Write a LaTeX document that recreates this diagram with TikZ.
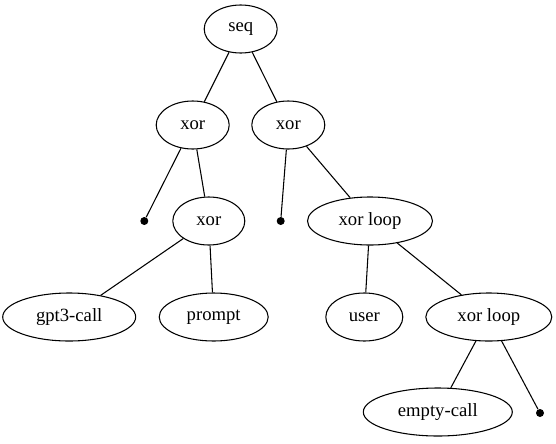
\documentclass[tikz,border=0pt]{standalone}
\usepackage{fontspec}
\setmainfont{Liberation Serif}
\usetikzlibrary{shapes.geometric}
\begin{document}
\begin{tikzpicture}[x=0.75pt,y=-0.75pt,
  tnode/.style={draw, ellipse, line width=0.8pt, inner sep=0pt, minimum height=36pt,
                font=\fontsize{14}{16}\selectfont},
  leaf/.style={circle, fill, inner sep=0pt, minimum size=6pt},
  edge/.style={line width=0.8pt}]
\useasboundingbox (0,0) rectangle (556,443);
% level 0
\node[tnode, minimum width=54.75pt] (seq) at (240.7,29) {seq};
% level 1
\node[tnode, minimum width=54.75pt] (xa) at (192.7,125) {xor};
\node[tnode, minimum width=54.75pt] (xb) at (288.3,125) {xor};
% level 2
\node[leaf] (pa) at (144.3,221) {};
\node[tnode, minimum width=54pt] (xc) at (208.8,221) {xor};
\node[leaf] (pb) at (280.7,221) {};
\node[tnode, minimum width=93.75pt] (la) at (370,221) {xor loop};
% level 3
\node[tnode, minimum width=99.75pt] (gpt) at (69.2,317) {gpt3-call};
\node[tnode, minimum width=81.75pt] (prm) at (213.7,317) {prompt};
\node[tnode, minimum width=57.75pt] (usr) at (364.3,317) {user};
\node[tnode, minimum width=94.5pt] (lb) at (488.8,317) {xor loop};
% level 4
\node[tnode, minimum width=111.75pt] (emp) at (437.8,412) {empty-call};
\node[leaf] (pc) at (540,413) {};
% edges
\draw[edge] (seq) -- (xa);
\draw[edge] (seq) -- (xb);
\draw[edge] (xa) -- (pa);
\draw[edge] (xa) -- (xc);
\draw[edge] (xb) -- (pb);
\draw[edge] (xb) -- (la);
\draw[edge] (xc) -- (gpt);
\draw[edge] (xc) -- (prm);
\draw[edge] (la) -- (usr);
\draw[edge] (la) -- (lb);
\draw[edge] (lb) -- (emp);
\draw[edge] (lb) -- (pc);
\end{tikzpicture}
\end{document}
